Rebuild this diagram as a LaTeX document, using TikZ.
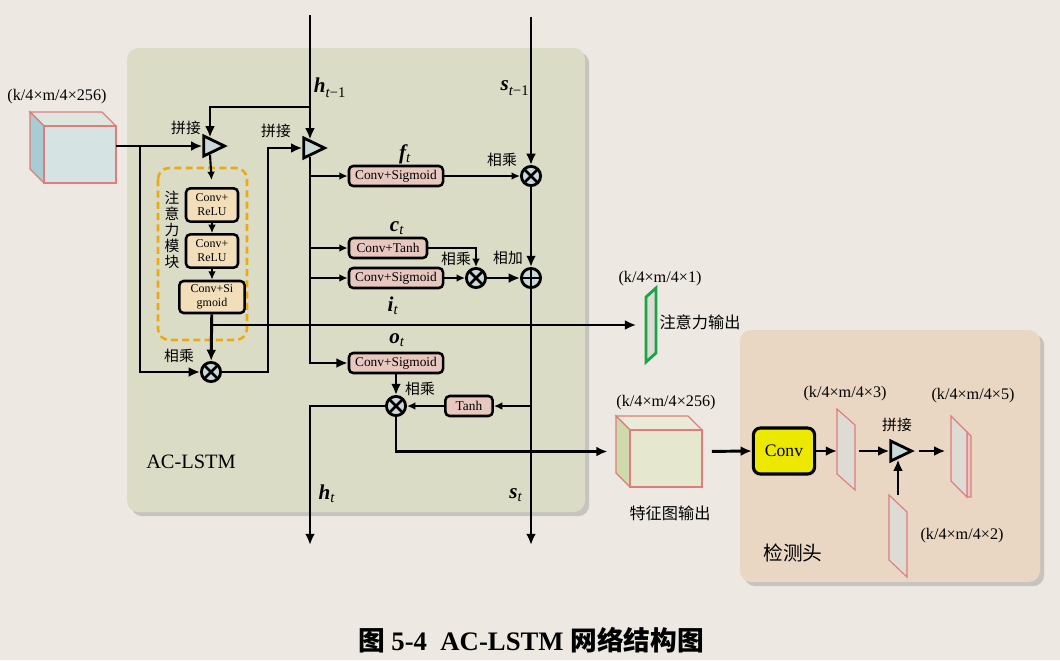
\documentclass[tikz,border=0pt]{standalone}
\usepackage{fontspec}
\setmainfont{Liberation Serif}
\newfontfamily\cjk{Noto Sans CJK SC}
\usepackage{xcolor}
\usepackage{tikz}
\usetikzlibrary{shapes}
\usetikzlibrary{positioning}
\usetikzlibrary{shadows}
\usetikzlibrary{arrows.meta}

\definecolor{bgcol}{RGB}{237,233,226}
\definecolor{lstmcol}{RGB}{218,220,198}
\definecolor{headcol}{RGB}{233,215,195}
\definecolor{pinkbox}{RGB}{232,200,190}
\definecolor{tanbox}{RGB}{242,223,186}
\definecolor{opfill}{RGB}{202,216,216}
\definecolor{dashorange}{RGB}{235,170,20}
\definecolor{edgered}{RGB}{222,125,125}
\definecolor{plategray}{RGB}{221,219,212}
\definecolor{attgreen}{RGB}{25,165,70}
\definecolor{convyellow}{RGB}{236,232,0}

\newcommand{\hvar}[2]{{\fontsize{15}{15}\selectfont\bfseries\itshape #1}\textsubscript{\fontsize{10.5}{10.5}\selectfont\itshape #2}}

\begin{document}
\begin{tikzpicture}[x=0.025cm, y=-0.025cm,
    wire/.style={line width=2.1pt, >={Latex[length=8pt,width=7pt]}},
    thin/.style={line width=1.5pt, >={Latex[length=6pt,width=5.5pt]}},
    ghost/.style={inner sep=0pt, outer sep=0pt},
    lab/.style={font=\fontsize{11.5}{13}\selectfont},
    zh/.style={font=\cjk\fontsize{10.5}{11.5}\selectfont},
    pbox/.style={draw, line width=1.8pt, rounded corners=3pt, fill=pinkbox, inner sep=0pt,
      minimum height=0.5cm, font=\fontsize{9.5}{10}\selectfont},
    abox/.style={draw, line width=1.8pt, rounded corners=3pt, fill=tanbox, inner sep=0pt,
      align=center, font=\fontsize{8.5}{10}\selectfont},
    cat/.style={isosceles triangle, isosceles triangle stretches, draw, line width=2pt,
      fill=opfill, inner sep=0pt, minimum width=0.5cm, minimum height=0.52cm},
    mulop/.style={circle, draw, line width=2pt, fill=opfill, inner sep=0pt, minimum size=0.48cm,
      path picture={\draw [line width=1.8pt]
        (path picture bounding box.north west) -- (path picture bounding box.south east)
        (path picture bounding box.north east) -- (path picture bounding box.south west);}},
    addop/.style={circle, draw, line width=2pt, fill=opfill, inner sep=0pt, minimum size=0.48cm,
      path picture={\draw [line width=1.8pt]
        (path picture bounding box.north) -- (path picture bounding box.south)
        (path picture bounding box.east) -- (path picture bounding box.west);}},
    cubeline/.style={draw=edgered, line width=0.8pt}]

  \useasboundingbox (0,0) rectangle (1060,660);
  \fill [bgcol] (0,0) rectangle (1060,660);

  % panels
  \fill [lstmcol, rounded corners=8pt, drop shadow={shadow xshift=3pt, shadow yshift=-3pt, opacity=0.35}]
    (127,48) rectangle (585,512);
  \fill [headcol, rounded corners=8pt, drop shadow={shadow xshift=3pt, shadow yshift=-3pt, opacity=0.35}]
    (740,330) rectangle (1040,582);

  % input cube
  \draw [cubeline, fill={rgb,255:red,222;green,230;blue,224}] (30,112) -- (102,112) -- (116,126) -- (44,126) -- cycle;
  \draw [cubeline, fill={rgb,255:red,168;green,204;blue,212}] (30,112) -- (44,126) -- (44,183) -- (30,169) -- cycle;
  \draw [cubeline, fill={rgb,255:red,213;green,228;blue,226}] (44,126) rectangle (116,183);
  \node (cubeA) [ghost, minimum width=2.15cm, minimum height=1.775cm] at (73,147.5) {};

  % feature cube
  \draw [cubeline, fill={rgb,255:red,234;green,234;blue,216}] (616,416) -- (688,416) -- (702,430) -- (630,430) -- cycle;
  \draw [cubeline, fill={rgb,255:red,206;green,217;blue,172}] (616,416) -- (630,430) -- (630,487) -- (616,473) -- cycle;
  \draw [cubeline, fill={rgb,255:red,229;green,231;blue,207}] (630,430) rectangle (702,487);
  \node (cubeB) [ghost, minimum width=2.15cm, minimum height=1.775cm] at (659,451.5) {};

  % plates
  \draw [attgreen, line width=2pt, fill=plategray] (646,297) -- (656,288) -- (656,353) -- (646,362) -- cycle;
  \node (attOut) [ghost, minimum width=0.25cm, minimum height=1.85cm] at (651,325) {};
  \draw [cubeline, fill=plategray] (837,409) -- (855,425) -- (855,490) -- (837,474) -- cycle;
  \node (plateA) [ghost, minimum width=0.45cm, minimum height=2.025cm] at (846,449.5) {};
  \draw [cubeline, fill=plategray] (889,495) -- (907,512) -- (907,577) -- (889,560) -- cycle;
  \node (plateB) [ghost, minimum width=0.475cm, minimum height=2.05cm] at (898,536) {};
  \draw [cubeline, fill={rgb,255:red,236;green,200;blue,195}] (967,432) -- (971,436) -- (971,497) -- (967,497) -- cycle;
  \draw [cubeline, fill=plategray] (951,416) -- (967,432) -- (967,497) -- (951,481) -- cycle;
  \node (plateC) [ghost, minimum width=0.5cm, minimum height=2.025cm] at (961,456.5) {};

  % attention module
  \draw [dashorange, line width=1.8pt, dash pattern=on 5pt off 3pt, rounded corners=8pt] (158,168) rectangle (247,340);
  \node (att1) [abox, minimum width=1.3cm, minimum height=0.83cm] at (212,205) {Conv+\\ReLU};
  \node (att2) [abox, minimum width=1.3cm, minimum height=0.83cm] at (212,251) {Conv+\\ReLU};
  \node (att3) [abox, minimum width=1.63cm, minimum height=0.8cm] at (212,297) {Conv+Si\\gmoid};

  \node (cat1) [cat] at (210,146) {};
  \node (cat2) [cat] at (310,148) {};
  \node (cat3) [cat] at (897,451) {};
  \node (mulA) [mulop] at (211,372) {};
  \node (mulF) [mulop] at (531,176) {};
  \node (mulI) [mulop] at (476,278) {};
  \node (addS) [addop] at (531,278) {};
  \node (mulO) [mulop] at (396,406) {};

  \node (convF) [pbox, minimum width=2.35cm] at (396,176) {Conv+Sigmoid};
  \node (convC) [pbox, minimum width=1.95cm] at (388,248) {Conv+Tanh};
  \node (convI) [pbox, minimum width=2.35cm] at (396,278) {Conv+Sigmoid};
  \node (convO) [pbox, minimum width=2.35cm] at (396,363) {Conv+Sigmoid};
  \node (tanhB) [pbox, minimum width=1.18cm] at (469,406) {Tanh};
  \node (convY) [draw, line width=2.2pt, rounded corners=5pt, fill=convyellow, minimum width=1.53cm,
    minimum height=1.15cm, font=\fontsize{12.5}{14}\selectfont] at (784,451) {Conv};

  \coordinate (hin) at (310,15);
  \coordinate (sin) at (531,17);
  \coordinate (hout) at (310,545);
  \coordinate (sout) at (531,545);
  \coordinate (hfork) at (310,107);
  \coordinate (splitA) at (140,146);
  \coordinate (attfork) at (211,325);

  % connectors
  \draw [wire, ->] (hin) -- (cat2.north);
  \draw [wire, ->] (hfork) -| (cat1.north);
  \draw [wire, ->] (cubeA.east |- cat1) -- (cat1.west);
  \draw [wire, ->] (splitA) |- (mulA.west);
  \draw [thin, ->, shorten >=5pt] (cat1.south) -- (att1.north);
  \draw [thin, ->] (att1) -- (att2);
  \draw [thin, ->] (att2) -- (att3);
  \draw [wire, ->] (att3) -- (mulA);
  \draw [wire, ->, shorten >=7pt] (attfork) -- (attOut.west);
  \draw [wire, ->] (mulA.east) -- ++(46,0) |- (cat2.west);

  \draw [wire, ->] (cat2.south) |- (convO.west);
  \draw [thin, ->] (cat2.south |- convF) -- (convF.west);
  \draw [thin, ->] (cat2.south |- convC) -- (convC.west);
  \draw [thin, ->] (cat2.south |- convI) -- (convI.west);
  \draw [thin, ->] (convF) -- (mulF);
  \draw [wire, ->] (sin) -- (mulF);
  \draw [wire, ->] (mulF) -- (addS);
  \draw [wire, ->] (addS) -- (sout);
  \draw [thin, ->] (convC.east) -| (mulI.north);
  \draw [thin, ->] (convI) -- (mulI);
  \draw [wire, ->] (mulI) -- (addS);
  \draw [wire, ->] (convO) -- (mulO);
  \draw [thin, ->] (sin |- tanhB) -- (tanhB);
  \draw [thin, ->] (tanhB) -- (mulO);
  \draw [wire, ->] (mulO.west) -| (hout);
  \draw [wire, ->, shorten >=6pt] (mulO.south) |- (cubeB.west);

  \draw [wire, ->, shorten <=7pt] (cubeB.east) -- (convY.west);
  \draw [wire, ->] (convY.east) -- (convY.east -| plateA.west);
  \draw [wire, ->, shorten <=3pt] (plateA.east |- cat3) -- (cat3.west);
  \draw [wire, ->] (plateB.north) -- (plateB.north |- cat3.south);
  \draw [wire, ->, shorten <=3pt, shorten >=4pt] (cat3.east) -- (cat3.east -| plateC.west);

  % labels
  \node (dimA) [lab] at (57,97) {(k/4×m/4×256)};
  \node (catlabA) [zh] at (186,128) {拼接};
  \node (catlabB) [zh] at (276,131) {拼接};
  \node (attname) [zh, align=center, inner sep=0pt] at (172,230) {注\\意\\力\\模\\块};
  \node (mullabA) [zh] at (179,356) {相乘};
  \node (hprev) at (330,88) {\hvar{h}{t\upshape −1}};
  \node (sprev) at (515,88) {\hvar{s}{t\upshape −1}};
  \node (flab) at (405,154) {\hvar{f}{t}};
  \node (clab) at (397,228) {\hvar{c}{t}};
  \node (ilab) at (393,306) {\hvar{i}{t}};
  \node (olab) at (397,340) {\hvar{o}{t}};
  \node (mullabF) [zh] at (502,160) {相乘};
  \node (addlab) [zh] at (508,258) {相加};
  \node (mullabI) [zh] at (456,259) {相乘};
  \node (mullabO) [zh] at (420,389) {相乘};
  \node (lstmname) [font=\fontsize{14.5}{16}\selectfont] at (191,462) {AC-LSTM};
  \node (hnext) at (327,494) {\hvar{h}{t}};
  \node (snext) at (516,495) {\hvar{s}{t}};
  \node (dimAtt) [lab] at (660,279) {(k/4×m/4×1)};
  \node (attlab) [zh, font=\cjk\fontsize{11.5}{13}\selectfont] at (700,322) {注意力输出};
  \node (dimB) [lab] at (666,403) {(k/4×m/4×256)};
  \node (featlab) [zh, font=\cjk\fontsize{11.5}{13}\selectfont] at (670,513) {特征图输出};
  \node (dim3) [lab] at (845,394) {(k/4×m/4×3)};
  \node (catlabC) [zh] at (897,425) {拼接};
  \node (dim5) [lab] at (973,396) {(k/4×m/4×5)};
  \node (dim2) [lab] at (962,536) {(k/4×m/4×2)};
  \node (headlab) [zh, font=\cjk\fontsize{14}{16}\selectfont] at (793,553) {检测头};
  \node (caption) [font=\fontsize{19}{22}\selectfont\bfseries] at (531,640)
    {{\cjk 图} 5-4\ \ AC-LSTM {\cjk 网络结构图}};

\end{tikzpicture}
\end{document}
